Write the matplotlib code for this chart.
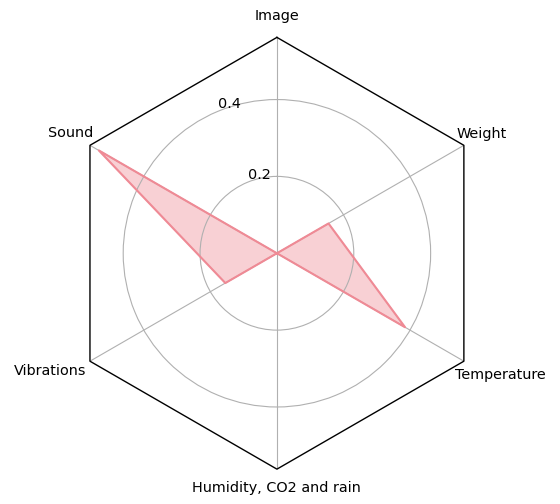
import numpy as np
import matplotlib
matplotlib.use("Agg")
import matplotlib.pyplot as plt

labels = ["Image", "Sound", "Vibrations", "Humidity, CO2 and rain", "Temperature", "Weight"]
values = [0.0, 0.535, 0.155, 0.0, 0.385, 0.155]
rticks = [0.2, 0.4]

n = len(labels)
theta = np.linspace(0, 2 * np.pi, n, endpoint=False)

fig = plt.figure(figsize=(5.6, 5.04), dpi=100)
ax = fig.add_axes([0.109, 0.069, 0.771, 0.857], projection="polar")
ax.set_theta_zero_location("N")

rmax = max(values) * 1.05
ax.set_ylim(0, rmax)

col = "#ef8a95"
th = np.append(theta, theta[0])
v = np.append(values, values[0])
ax.plot(th, v, color=col, lw=1.5)
ax.fill(th, v, color=col, alpha=0.4)

# hexagon frame instead of circle
ax.spines["polar"].set_visible(False)
ax.plot(th, np.full(len(th), rmax), color="black", lw=1, clip_on=False)

ax.set_xticks(theta)
ax.set_xticklabels([])
ax.set_rgrids(rticks, fontsize=10.4)

# label offsets (pixels) from each outer vertex
offs = [(0, 21), (-19, 12), (-40, -10), (0, -19), (36, -14), (18, 11)]
for t, lab, (dx, dy) in zip(theta, labels, offs):
    ax.annotate(lab, xy=(t, rmax), xytext=(dx, dy), textcoords="offset pixels",
                ha="center", va="center", fontsize=10.4, annotation_clip=False)

fig.savefig("out.png")
